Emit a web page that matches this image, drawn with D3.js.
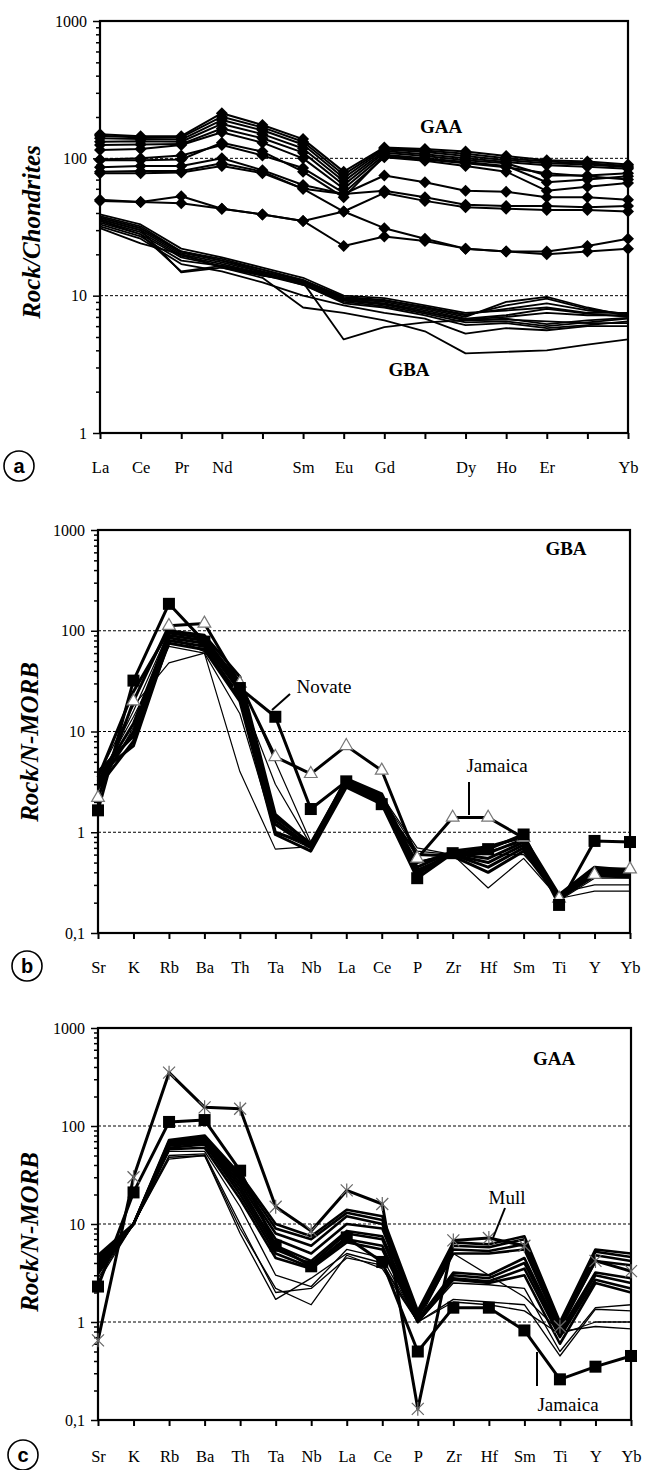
<!DOCTYPE html>
<html>
<head>
<meta charset="utf-8">
<script src="https://cdn.jsdelivr.net/npm/d3@7"></script>
<style>
  body { margin: 0; background: #fff; }
  svg { display: block; }
  text { font-family: "Liberation Serif", "Times New Roman", serif; }
</style>
</head>
<body>
<div id="container"></div>
<script>
let w = 645;
let h = 1470;

// ---- categories ----
let reeCats = ["La","Ce","Pr","Nd","Pm","Sm","Eu","Gd","Tb","Dy","Ho","Er","Tm","Yb"];
let reeShown = ["La","Ce","Pr","Nd","Sm","Eu","Gd","Dy","Ho","Er","Yb"];
let spiderCats = ["Sr","K","Rb","Ba","Th","Ta","Nb","La","Ce","P","Zr","Hf","Sm","Ti","Y","Yb"];

// ---- panel a : chondrite normalised REE ----
let gaaREE = [
  [150,145,145,213,175,138,80,120,117,112,104,97,95,90],
  [146,142,142,201,168,132,76,118,114,108,100,95,92,88],
  [140,138,137,190,160,126,72,116,111,104,97,92,90,86],
  [132,133,132,178,150,118,68,113,107,100,94,89,87,84],
  [125,126,127,165,140,110,64,110,104,97,92,75,75,78],
  [115,117,125,155,130,100,60,106,100,94,88,67,70,74],
  [98,100,105,125,105,85,56,102,96,88,80,58,62,66],
  [97,97,98,130,112,80,52,104,98,92,86,78,74,70],
  [86,88,88,100,82,64,55,75,67,58,57,52,52,50],
  [80,81,81,92,80,60,55,58,52,46,45,45,44,45],
  [78,78,79,88,78,60,41,31,26,22,21,21,23,26],
  [49,48,53,43,39,35,41,56,49,44,43,42,42,41],
  [50,48,47,43,39,35,23,27,25,22,21,20,21,22]
];
let gbaREE = [
  [39,33,22,19,16,13.5,10,9.6,8.5,7.5,7.8,8.2,7.5,7.5],
  [38,32,21,18.5,15.5,13,9.8,9.3,8.2,7.2,8.5,9.5,8,7.3],
  [37,31,20.5,18,15,12.8,9.5,9,8,7,9,9.8,8.2,7.1],
  [36,30,20,17.5,14.8,12.5,9.3,8.8,7.8,6.8,7.2,8,7.4,7],
  [35,29,19.5,17,14.5,12.2,9.2,8.6,7.6,6.6,6.8,6.2,6.6,6.9],
  [34,28,19,16.5,14.2,12,9,8.4,7.4,6.4,6.5,6,6.4,6.8],
  [36,30,14.8,16,14,12.8,9.4,8.7,7.6,6.7,7,7.5,7.2,7.2],
  [33,27,18,16.5,14,12.5,4.8,5.9,6.4,6.6,6.7,6.5,6.3,6.3],
  [32,26,17,15,12.5,10,8.5,7.5,6.8,5.3,5.8,5.6,6,6],
  [31,24,20,16,13.5,8.2,7.5,6.6,5.5,3.8,3.9,4,4.4,4.8],
  [35,28,15,16.5,14.5,12,8.8,8.2,7.2,6.1,6.3,5.8,6.1,6.5],
  [37,31,21,18,15.5,13,9.6,9.2,8.3,7.3,8,8.8,7.8,7.4]
];

// ---- panel b : GBA, N-MORB normalised ----
let gbaNovate = [1.65,32,185,78,27,14,1.7,3.2,1.9,0.35,0.62,0.68,0.95,0.19,0.82,0.8];
let gbaJamaica = [2.2,20,112,118,30,5.6,3.8,7.2,4.1,0.55,1.4,1.4,0.88,0.22,0.38,0.43];
let gbaSpider = [
  [3.5,25,100,90,35,1.5,0.75,3.4,2.4,0.45,0.65,0.72,0.9,0.24,0.45,0.42],
  [3.2,12,95,85,30,1.4,0.78,3.3,2.3,0.4,0.63,0.62,0.85,0.23,0.43,0.41],
  [3.0,10,90,80,28,1.3,0.72,3.1,2.2,0.38,0.62,0.55,0.8,0.22,0.42,0.4],
  [2.8,8,85,75,25,1.2,0.7,3.0,2.1,0.42,0.6,0.5,0.75,0.22,0.4,0.39],
  [3.8,7.2,80,70,22,1.0,0.75,2.9,2.0,0.5,0.6,0.45,0.7,0.23,0.38,0.37],
  [4.0,9,75,65,20,0.95,0.65,2.8,1.9,0.6,0.58,0.4,0.65,0.22,0.37,0.36],
  [3.3,14,70,60,4,0.68,0.72,3.1,2.2,0.65,0.6,0.28,0.55,0.22,0.26,0.26],
  [3.6,18,48,60,15,1.0,0.7,3.2,2.3,0.7,0.6,0.6,0.6,0.25,0.3,0.3],
  [2.6,11,88,62,24,3,0.75,3.3,2.2,0.45,0.62,0.65,0.8,0.21,0.35,0.35],
  [3.1,16,98,82,32,5,0.8,3.0,2.0,0.5,0.64,0.7,0.88,0.24,0.44,0.44]
];

// ---- panel c : GAA, N-MORB normalised ----
let gaaMull = [0.65,30,350,155,150,15,8.5,22,16,0.13,6.8,7.2,6,0.9,4.2,3.3];
let gaaJamaica = [2.3,21,110,115,35,6,3.7,7.3,4.1,0.5,1.4,1.4,0.82,0.26,0.35,0.45];
let gaaSpider = [
  [4.8,10,72,80,32,10,7.5,14,12,1.3,6.5,6.2,7.5,1.0,5.5,5.0],
  [4.5,10,70,78,30,9,7,13,11,1.2,6,5.8,7,0.95,5.2,4.6],
  [4.2,10,68,75,28,8,6,12,10,1.15,5.5,5.3,6.2,0.9,4.8,4.2],
  [4.0,10,66,72,26,7,5,10,9,1.1,5,5,5.5,0.85,4.2,3.8],
  [3.8,10,65,70,24,6,4.2,8.5,7.5,1.05,3.2,3,4.5,0.8,3.2,2.8],
  [3.6,10,63,68,22,5.5,3.9,8,7,1.0,3,2.8,4,0.75,3,2.5],
  [3.4,10,60,65,20,5,3.6,7,6,1.0,2.8,2.6,3.5,0.7,2.7,2.2],
  [3.2,10,58,60,18,4.5,3.5,6.5,5.5,1.0,2.7,2.5,3,0.6,2.5,2.0],
  [3.0,10,55,55,15,3,2.3,5.5,4.5,1.0,2.5,2.4,2.2,0.5,1.4,1.5],
  [2.8,10,50,52,10,2.0,2.2,4.5,3.8,1.0,1.7,1.6,1.5,0.45,1.35,1.3],
  [2.6,10,48,50,8,1.7,2.8,5,4,1.0,1.6,1.5,1.3,0.75,1.0,1.0],
  [3.1,10,46,50,9,2.2,1.5,4.8,3.5,1.0,5,3,1.8,0.8,0.9,0.85]
];

let viz = d3.select("#container").append("svg")
  .attr("width", w)
  .attr("height", h)
  .style("background-color", "white");

function fmt(d){
  return d < 1 ? String(d).replace(".", ",") : String(d);
}

// draws frame, axes, grid for one panel; returns scales
function makePanel(p){
  let g = viz.append("g");
  let x = d3.scalePoint().domain(p.cats).range([p.left, p.right]);
  let y = d3.scaleLog().domain(p.domain).range([p.bottom, p.top]);

  let majors = [];
  for (let v = p.domain[0]; v <= p.domain[1] + 1e-9; v *= 10) majors.push(+v.toPrecision(3));
  let minors = [];
  majors.slice(0, -1).forEach(function(m){
    for (let k = 2; k <= 9; k++) minors.push(+(m * k).toPrecision(3));
  });

  // dashed grid
  g.selectAll(".grid").data(majors.slice(1, -1)).enter().append("line")
    .attr("x1", p.left).attr("x2", p.right)
    .attr("y1", d => y(d)).attr("y2", d => y(d))
    .attr("stroke", "#000").attr("stroke-width", 1)
    .attr("stroke-dasharray", "3,2");

  // minor ticks
  g.append("g").attr("transform", "translate(" + p.left + ",0)")
    .call(d3.axisLeft(y).tickValues(minors).tickSize(4).tickFormat(""))
    .call(s => s.select(".domain").remove())
    .selectAll("line").attr("stroke-width", 1.5);

  // major ticks + labels
  let ya = g.append("g").attr("transform", "translate(" + p.left + ",0)")
    .call(d3.axisLeft(y).tickValues(majors).tickSize(7).tickPadding(6).tickFormat(fmt));
  ya.select(".domain").remove();
  ya.selectAll("line").attr("stroke-width", 1.5);
  ya.selectAll("text").attr("font-size", 16).attr("fill", "#000")
    .style("font-family", "Liberation Serif");

  // bottom ticks and labels
  let xa = g.append("g").attr("transform", "translate(0," + p.bottom + ")")
    .call(d3.axisBottom(x).tickSize(6).tickPadding(p.labelPad)
      .tickFormat(d => p.shown.indexOf(d) >= 0 ? d : ""));
  xa.select(".domain").remove();
  xa.selectAll("line").attr("stroke-width", 2);
  xa.selectAll("text").attr("font-size", 16.5).attr("fill", "#000")
    .style("font-family", "Liberation Serif");

  // frame
  g.append("rect")
    .attr("x", p.left).attr("y", p.top)
    .attr("width", p.right - p.left).attr("height", p.bottom - p.top)
    .attr("fill", "none").attr("stroke", "#000").attr("stroke-width", 2.2);

  // y title
  g.append("text")
    .attr("transform", "translate(" + p.titleX + "," + p.titleY + ") rotate(-90)")
    .attr("text-anchor", "middle")
    .attr("font-size", 25).attr("font-weight", "bold").attr("font-style", "italic")
    .text(p.title);

  // panel letter
  g.append("circle").attr("cx", p.letterX).attr("cy", p.letterY).attr("r", 15)
    .attr("fill", "white").attr("stroke", "#000").attr("stroke-width", 1.6);
  g.append("text").attr("x", p.letterX).attr("y", p.letterY + 7)
    .attr("text-anchor", "middle").attr("font-size", 20).attr("font-weight", "bold")
    .style("font-family", "Liberation Sans, Arial, sans-serif")
    .text(p.letter);

  return {g: g, x: x, y: y};
}

function drawLines(s, cats, series, width){
  let line = d3.line().x((d, i) => s.x(cats[i])).y(d => s.y(d));
  s.g.selectAll(null).data(series).enter().append("path")
    .attr("d", line)
    .attr("fill", "none").attr("stroke", "#000")
    .attr("stroke-width", (d, i) => typeof width === "function" ? width(i) : width)
    .attr("stroke-linejoin", "round");
}

function label(s, x, y, txt, bold, size){
  s.g.append("text").attr("x", x).attr("y", y).attr("text-anchor", "middle")
    .attr("font-size", size).attr("font-weight", bold ? "bold" : "normal")
    .text(txt);
}

// ---------- panel a ----------
let A = makePanel({cats: reeCats, shown: reeShown, domain: [1, 1000],
  left: 100, right: 628, top: 21, bottom: 433, labelPad: 22,
  title: "Rock/Chondrites", titleX: 40, titleY: 232, letter: "a", letterX: 19, letterY: 466});

drawLines(A, reeCats, gbaREE, 1.8);
drawLines(A, reeCats, gaaREE, 2);
let diamond = "M0,-6L6,0L0,6L-6,0Z";
gaaREE.forEach(function(row){
  A.g.selectAll(null).data(row).enter().append("path")
    .attr("d", diamond)
    .attr("transform", (d, i) => "translate(" + A.x(reeCats[i]) + "," + A.y(d) + ")")
    .attr("fill", "#000");
});
label(A, 441, 133, "GAA", true, 19);
label(A, 409, 376, "GBA", true, 19);

// ---------- panel b ----------
let B = makePanel({cats: spiderCats, shown: spiderCats, domain: [0.1, 1000],
  left: 98, right: 630, top: 530, bottom: 933, labelPad: 22,
  title: "Rock/N-MORB", titleX: 38, titleY: 742, letter: "b", letterX: 27, letterY: 966});

drawLines(B, spiderCats, gbaSpider, i => (i >= 6 ? 1.2 : 3));
drawLines(B, spiderCats, [gbaJamaica, gbaNovate], 3);
let tri = d3.symbol().type(d3.symbolTriangle).size(70);
B.g.selectAll(null).data(gbaJamaica).enter().append("path")
  .attr("d", tri)
  .attr("transform", (d, i) => "translate(" + B.x(spiderCats[i]) + "," + B.y(d) + ")")
  .attr("fill", "white").attr("stroke", "#777").attr("stroke-width", 1.2);
B.g.selectAll(null).data(gbaNovate).enter().append("rect")
  .attr("x", (d, i) => B.x(spiderCats[i]) - 6).attr("y", d => B.y(d) - 6)
  .attr("width", 12).attr("height", 12).attr("fill", "#000");
label(B, 566, 555, "GBA", true, 19);
label(B, 324, 693, "Novate", false, 19);
B.g.append("line").attr("x1", 290).attr("y1", 694).attr("x2", 272).attr("y2", 710)
  .attr("stroke", "#000").attr("stroke-width", 2);
label(B, 497, 772, "Jamaica", false, 19);
B.g.append("line").attr("x1", 469).attr("y1", 782).attr("x2", 469).attr("y2", 815)
  .attr("stroke", "#000").attr("stroke-width", 2);

// ---------- panel c ----------
let C = makePanel({cats: spiderCats, shown: spiderCats, domain: [0.1, 1000],
  left: 98, right: 631, top: 1028, bottom: 1420, labelPad: 24,
  title: "Rock/N-MORB", titleX: 38, titleY: 1232, letter: "c", letterX: 23, letterY: 1455});

drawLines(C, spiderCats, gaaSpider, i => (i >= 8 ? 1.3 : 2.6));
drawLines(C, spiderCats, [gaaMull, gaaJamaica], 3);
let star = "M-6,-6L6,6M-6,6L6,-6M0,-7L0,7";
C.g.selectAll(null).data(gaaMull).enter().append("path")
  .attr("d", star)
  .attr("transform", (d, i) => "translate(" + C.x(spiderCats[i]) + "," + C.y(d) + ")")
  .attr("fill", "none").attr("stroke", "#666").attr("stroke-width", 1.2);
C.g.selectAll(null).data(gaaJamaica).enter().append("rect")
  .attr("x", (d, i) => C.x(spiderCats[i]) - 6).attr("y", d => C.y(d) - 6)
  .attr("width", 12).attr("height", 12).attr("fill", "#000");
label(C, 554, 1065, "GAA", true, 19);
label(C, 507, 1204, "Mull", false, 19);
C.g.append("line").attr("x1", 505).attr("y1", 1208).attr("x2", 493).attr("y2", 1238)
  .attr("stroke", "#000").attr("stroke-width", 2);
label(C, 568, 1411, "Jamaica", false, 19);
C.g.append("line").attr("x1", 537).attr("y1", 1352).attr("x2", 537).attr("y2", 1386)
  .attr("stroke", "#000").attr("stroke-width", 2);
</script>
</body>
</html>
